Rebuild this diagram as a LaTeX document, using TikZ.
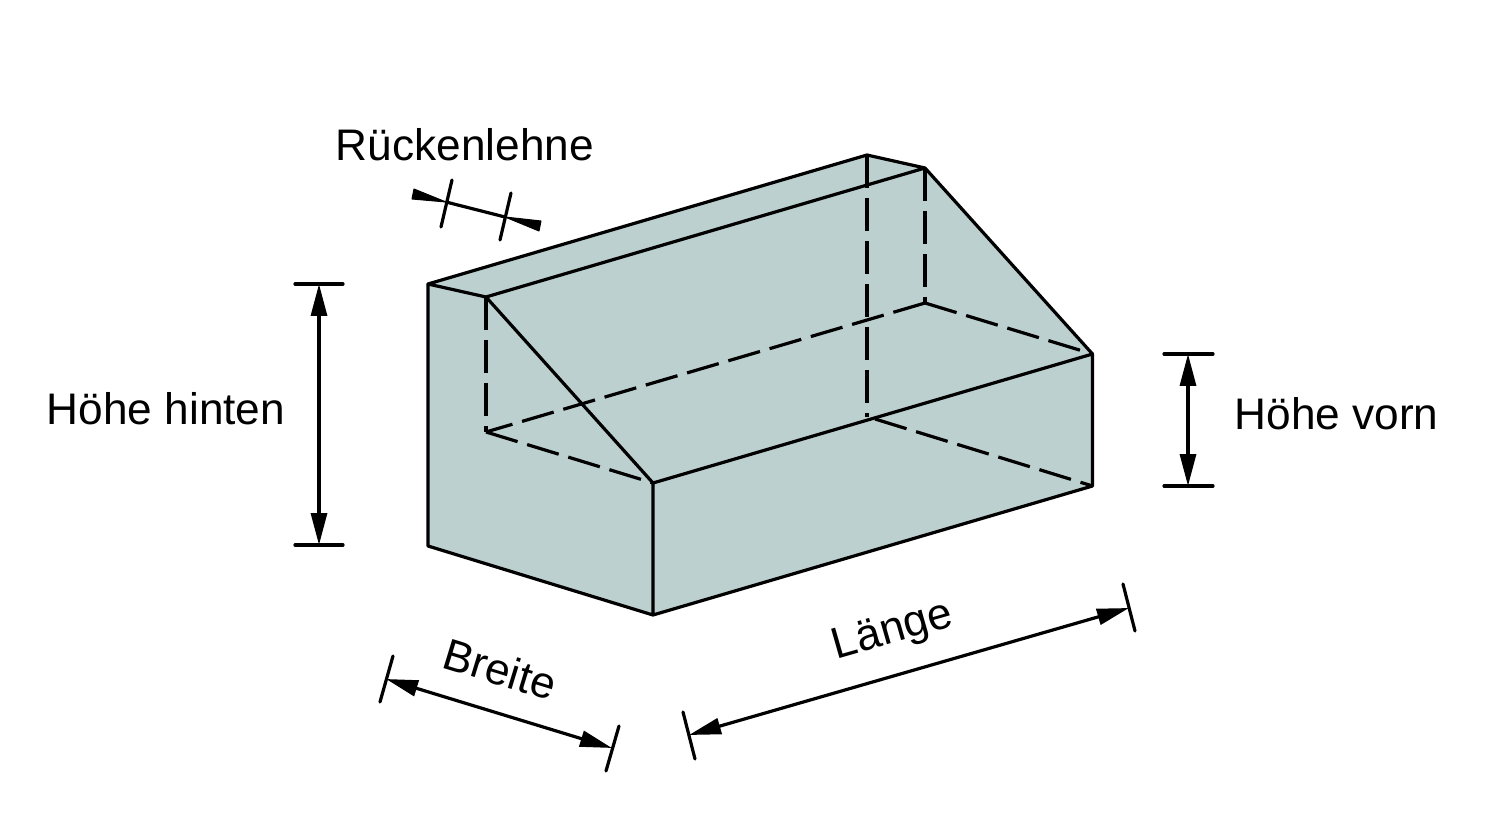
\documentclass[tikz,border=0pt]{standalone}
\usepackage{fontspec}
\setmainfont{Liberation Sans}
\usetikzlibrary{arrows.meta}
\definecolor{bodyfill}{HTML}{BDD0D0}
\tikzset{
  edge/.style={line width=1.6pt,line join=round,line cap=round},
  hidden/.style={line width=1.6pt,dash pattern=on 16.5pt off 5pt},
  tick/.style={line width=1.6pt,line cap=round},
  dim/.style={line width=1.6pt,{Triangle[length=16pt,width=8pt]}-{Triangle[length=16pt,width=8pt]},shorten <=0pt,shorten >=0pt},
  wedge/.style={fill=black,draw=black,line width=.5pt,line join=round},
  lab/.style={font=\fontsize{22.1}{26}\selectfont,inner sep=0pt}
}
\begin{document}
\begin{tikzpicture}[x=0.5pt,y=-0.5pt]
\useasboundingbox (0,0) rectangle (1500,818);
% body corners
\coordinate (A) at (428,284);
\coordinate (B) at (867,155);
\coordinate (C) at (925,168);
\coordinate (D) at (486,297);
\coordinate (E) at (653,483);
\coordinate (F) at (1092.5,354);
\coordinate (G) at (653,615);
\coordinate (H) at (1092.5,486);
\coordinate (I) at (428,546);
\coordinate (J) at (486,432);
\coordinate (K) at (925,303);
\coordinate (L) at (867,417);
\coordinate (M) at (875,419);
\fill[bodyfill] (A)--(B)--(C)--(F)--(H)--(G)--(I)--cycle;
% hidden edges
\draw[hidden] (B)--(L);
\draw[hidden] (C)--(K);
\draw[hidden] (K)--(J);
\draw[hidden] (K)--(F);
\draw[hidden] (D)--(J);
\draw[hidden] (J)--(E);
\draw[hidden] (M)--(H);
% visible edges
\draw[edge] (A)--(B)--(C)--(D)--cycle;
\draw[edge] (A)--(I)--(G)--(H)--(F)--(E)--(G);
\draw[edge] (C)--(F);
\draw[edge] (D)--(E);
% Höhe hinten
\coordinate (hh1l) at (295,284); \coordinate (hh1r) at (343,284);
\coordinate (hh2l) at (295,545); \coordinate (hh2r) at (343,545);
\coordinate (hha) at (319,284); \coordinate (hhb) at (319,545);
\draw[tick] (hh1l)--(hh1r);
\draw[tick] (hh2l)--(hh2r);
\draw[dim] (hha)--(hhb);
\node[lab] (hhlabel) at (166,409) {Höhe hinten};
% Höhe vorn
\coordinate (hv1l) at (1164,354); \coordinate (hv1r) at (1213,354);
\coordinate (hv2l) at (1164,486); \coordinate (hv2r) at (1213,486);
\coordinate (hva) at (1188,354); \coordinate (hvb) at (1188,486);
\draw[tick] (hv1l)--(hv1r);
\draw[tick] (hv2l)--(hv2r);
\draw[dim] (hva)--(hvb);
\node[lab] (hvlabel) at (1336.5,414) {Höhe vorn};
% Länge
\coordinate (la1) at (683,712); \coordinate (la2) at (695,759);
\coordinate (lb1) at (1123,584); \coordinate (lb2) at (1135,631);
\coordinate (laa) at (689,735); \coordinate (lab) at (1129,608);
\draw[tick] (la1)--(la2);
\draw[tick] (lb1)--(lb2);
\draw[dim] (laa)--(lab);
\node[lab,rotate=16] (llabel) at (893,632) {Länge};
% Breite
\coordinate (ba1) at (393,656); \coordinate (ba2) at (380,702);
\coordinate (bb1) at (619,726); \coordinate (bb2) at (606,771);
\coordinate (baa) at (386,679); \coordinate (bab) at (612,748);
\draw[tick] (ba1)--(ba2);
\draw[tick] (bb1)--(bb2);
\draw[dim] (baa)--(bab);
\node[lab,rotate=-17] (blabel) at (500,669) {Breite};
% Rückenlehne
\coordinate (ra1) at (452,180); \coordinate (ra2) at (441,227);
\coordinate (rb1) at (511,193); \coordinate (rb2) at (500,240);
\coordinate (rta) at (446,202); \coordinate (rtb) at (505,217);
\coordinate (rw1) at (414,189); \coordinate (rw2) at (412,199);
\coordinate (rw3) at (541,221); \coordinate (rw4) at (539,231);
\draw[tick] (ra1)--(ra2);
\draw[tick] (rb1)--(rb2);
\draw[tick] (rta)--(rtb);
\fill[wedge] (rta)--(rw1)--(rw2)--cycle;
\fill[wedge] (rtb)--(rw3)--(rw4)--cycle;
\node[lab] (rlabel) at (465,145) {Rückenlehne};
\end{tikzpicture}
\end{document}
